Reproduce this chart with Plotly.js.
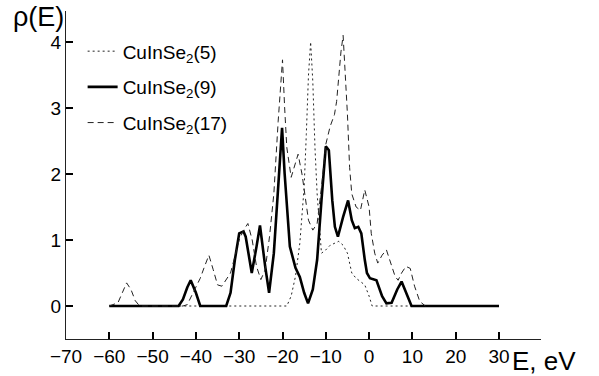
<!DOCTYPE html>
<html>
<head>
<meta charset="utf-8">
<script src="https://cdn.plot.ly/plotly-3.0.1.min.js"></script>
<style>html,body{margin:0;padding:0;background:#fff;}#chart{width:599px;height:376px;}</style>
</head>
<body>
<div id="chart"></div>
<script>
// Series names
const names = ["CuInSe<sub>2</sub>(5)", "CuInSe<sub>2</sub>(9)", "CuInSe<sub>2</sub>(17)"];

// CuInSe2(5) — dotted line
const e5 = [-60,-19,-18,-17,-16,-15,-14.5,-14,-13.5,-13,-12.5,-12,-11,-10,-9,-8,-7,-6,-5,-4,-3,-2,-1,0,0.7,12];
const r5 = [0,0,0.15,0.45,0.95,1.8,2.6,3.5,4.0,3.4,2.4,1.7,0.8,0.85,0.92,0.95,0.98,0.92,0.8,0.5,0.42,0.37,0.32,0.15,0,0];

// CuInSe2(9) — solid line
const e9 = [-60,-44,-43,-42,-41.2,-40,-39,-33,-32,-31,-30,-29,-28.5,-27.1,-26,-25.2,-24,-23.1,-22,-21,-20.1,-19.5,-18.3,-17,-16,-15,-14.1,-13,-12,-11,-10,-9.3,-8.5,-7.9,-7.2,-6,-4.85,-4,-3.3,-2.5,-1.8,-1,-0.5,0.2,1.7,3,4,5.2,6.5,7.5,8.5,9.8,30];
const r9 = [0,0,0.1,0.28,0.39,0.2,0,0,0.2,0.7,1.1,1.13,1.05,0.5,0.9,1.22,0.6,0.2,0.8,1.9,2.7,2.0,0.9,0.58,0.44,0.2,0.04,0.25,0.7,1.6,2.42,2.36,1.6,1.2,1.05,1.35,1.6,1.3,1.18,1.2,1.1,0.7,0.5,0.42,0.39,0.15,0.04,0.05,0.25,0.37,0.2,0,0];

// CuInSe2(17) — dashed line
const e17 = [-60,-58,-57,-56,-55,-54,-53,-43,-42,-41,-40,-39,-38,-37,-36,-35,-34,-33,-32,-31,-30,-29,-28,-27,-26,-25,-24,-23,-22,-21,-20,-19.5,-19,-18,-17,-16.4,-15.5,-15,-14,-13,-12,-11,-10,-9,-8,-7.5,-7,-6.5,-6,-5.5,-5,-4.5,-4,-3,-2,-1,0,0.5,1.3,2,3,4,5,6,6.7,7.5,8.5,9.5,10.5,11.7,13];
const r17 = [0,0.05,0.2,0.35,0.25,0.08,0,0,0.02,0.15,0.3,0.42,0.6,0.77,0.55,0.32,0.3,0.4,0.5,0.75,1.0,1.15,1.25,1.0,0.6,0.4,0.55,1.05,1.7,2.8,3.73,3.0,2.4,1.95,2.15,2.3,2.0,1.75,1.3,1.15,1.25,1.8,2.45,2.72,2.9,3.1,3.5,3.85,4.1,3.55,2.9,2.1,1.7,1.5,1.45,1.76,1.5,1.1,0.8,0.65,0.77,0.85,0.65,0.45,0.39,0.5,0.6,0.57,0.3,0.07,0];

const xTicks = [-70,-60,-50,-40,-30,-20,-10,0,10,20,30];
const yTicks = [0,1,2,3,4];

const traces = [
  {x: e5, y: r5, name: names[0], mode: "lines", legendgroup: "a",
   line: {color: "#222", width: 1, dash: "2px,3px"}},
  {x: e9, y: r9, name: names[1], mode: "lines", legendgroup: "b",
   line: {color: "#000", width: 2.6}},
  {x: e17, y: r17, name: names[2], mode: "lines", legendgroup: "c",
   line: {color: "#222", width: 1, dash: "6px,4px"}}
];

const layout = {
  width: 599, height: 376,
  margin: {l: 66, r: 58, t: 11, b: 37},
  font: {family: "Liberation Sans", color: "#000", size: 19},
  showlegend: true,
  legend: {x: 0.035, y: 0.935, xanchor: "left", yanchor: "top",
           font: {size: 19, color: "#000"},
           bgcolor: "rgba(0,0,0,0)", tracegroupgap: 8, traceorder: "grouped"},
  xaxis: {range: [-70, 39.7], tickvals: xTicks, ticks: "inside", ticklen: 7, tickwidth: 2,
          tickcolor: "#000", showline: true, linecolor: "#222", linewidth: 1,
          showgrid: false, zeroline: false, tickangle: 0, tickfont: {size: 19}},
  yaxis: {range: [-0.5, 4.47], tickvals: yTicks, ticks: "inside", ticklen: 7, tickwidth: 2,
          tickcolor: "#000", showline: true, linecolor: "#222", linewidth: 1,
          showgrid: false, zeroline: false, tickfont: {size: 19}},
  annotations: [
    {text: "ρ(E)", xref: "paper", yref: "paper", x: -0.115, y: 1.035,
     xanchor: "left", yanchor: "top", showarrow: false, font: {size: 27}},
    {text: "E, eV", xref: "paper", yref: "paper", x: 0.935, y: -0.067,
     xanchor: "left", yanchor: "middle", showarrow: false, font: {size: 26}}
  ]
};
Plotly.newPlot("chart", traces, layout, {staticPlot: true, displayModeBar: false});
</script>
</body>
</html>
